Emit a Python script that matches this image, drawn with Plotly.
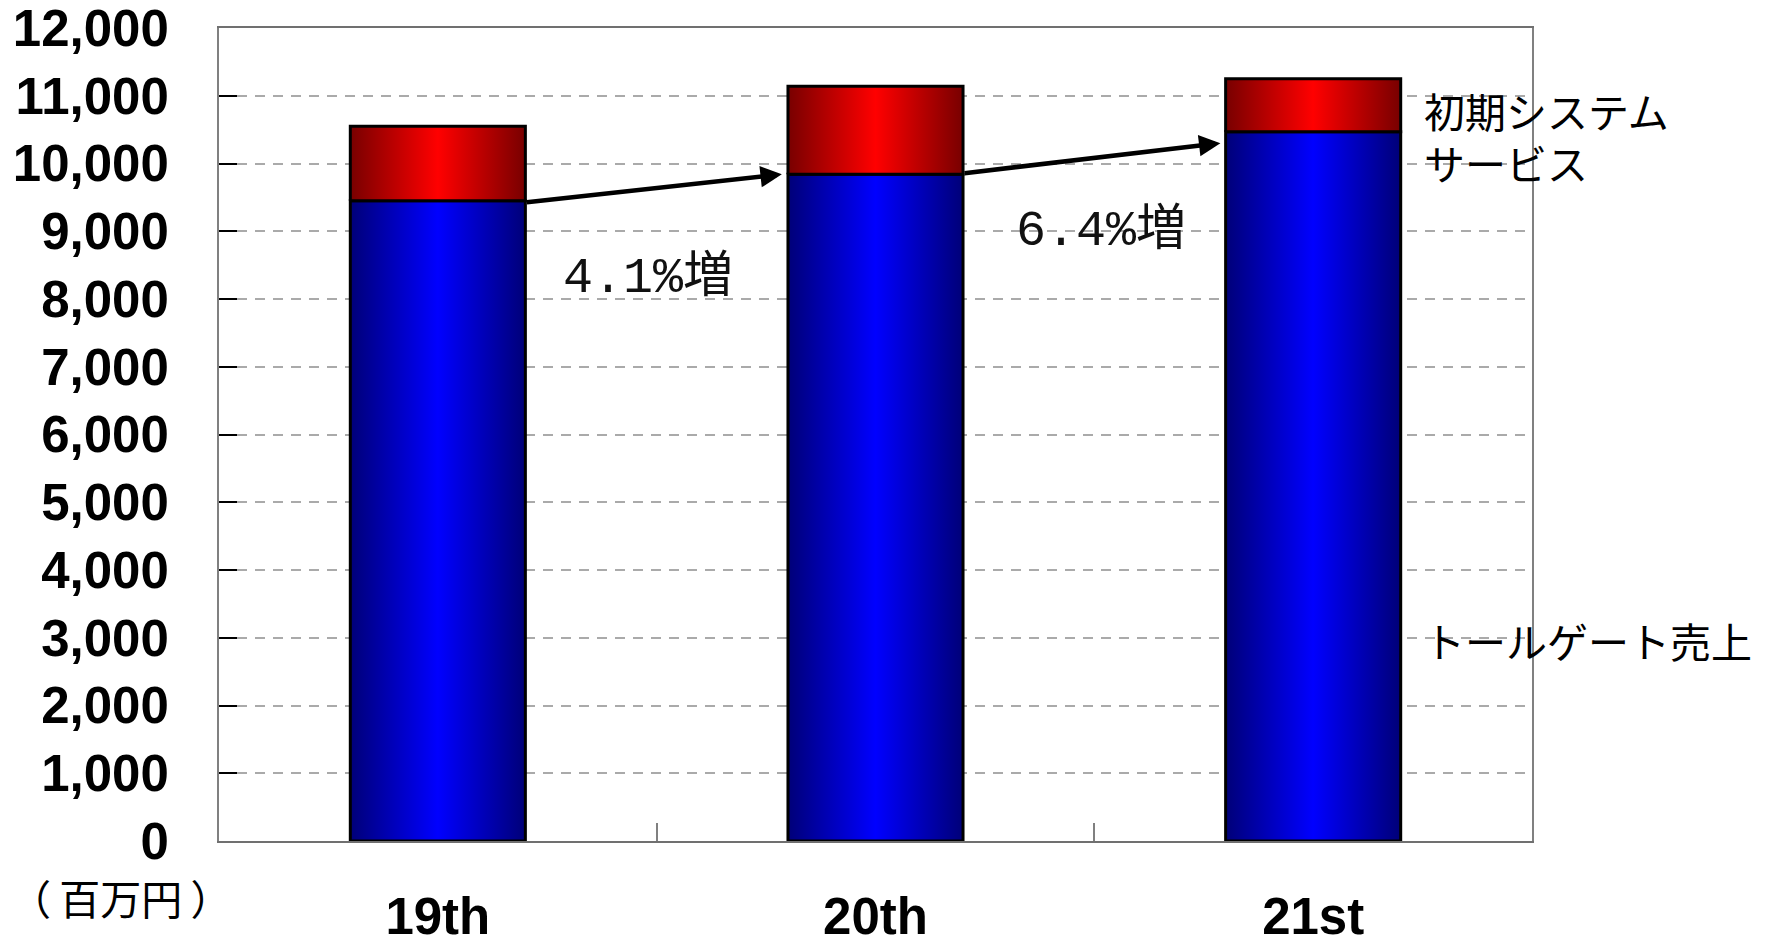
import plotly.graph_objects as go

# Sales by fiscal period (million yen)
periods = ["19th", "20th", "21st"]
toll_sales = [9450, 9840, 10470]        # トールゲート売上
initial_system = [1100, 1300, 780]      # 初期システムサービス
growth_labels = ["4.1%増", "6.4%増"]
y_ticks = list(range(0, 12001, 1000))

BAR_W = 0.4
blue_scale = [[0, "#000078"], [0.5, "#0000FF"], [1, "#000078"]]
red_scale = [[0, "#780000"], [0.5, "#FF0000"], [1, "#780000"]]

fig = go.Figure()

# stacked bars with a horizontal metallic gradient
for i, (b, r) in enumerate(zip(toll_sales, initial_system)):
    x0, x1 = i - BAR_W / 2, i + BAR_W / 2
    for base, top, scale in ((0, b, blue_scale), (b, b + r, red_scale)):
        fig.add_trace(go.Scatter(
            x=[x0, x1, x1, x0, x0],
            y=[base, base, top, top, base],
            mode="lines", fill="toself",
            fillgradient=dict(type="horizontal", colorscale=scale),
            line=dict(color="black", width=3),
            hoverinfo="skip", showlegend=False,
        ))

label_font = dict(family="Noto Sans CJK JP", size=41, color="black")
pct_font = dict(family="Liberation Mono, Noto Sans CJK JP", size=50, color="#111111")

annotations = []

# growth arrows between the toll-sales tops
arrows = [
    dict(tail=(0 + BAR_W / 2, toll_sales[0] - 25), head=(0.786, toll_sales[1])),
    dict(tail=(1 + BAR_W / 2, toll_sales[1] + 15), head=(1.788, 10300)),
]
for a in arrows:
    annotations.append(dict(
        x=a["head"][0], y=a["head"][1], ax=a["tail"][0], ay=a["tail"][1],
        xref="x", yref="y", axref="x", ayref="y",
        showarrow=True, arrowhead=2, arrowsize=0.95, arrowwidth=4.5,
        arrowcolor="black", standoff=0, text="",
    ))

# growth labels
for (gx, gy), txt in zip([(0.48, 8310), (1.516, 9000)], growth_labels):
    annotations.append(dict(x=gx, y=gy, xref="x", yref="y", text=txt,
                            showarrow=False, font=pct_font,
                            xanchor="center", yanchor="middle"))

# series labels at the right
for ty, txt in [(10790, "初期システム"), (10020, "サービス"), (2970, "トールゲート売上")]:
    annotations.append(dict(x=0.916, y=ty, xref="paper", yref="y",
                            text=txt, showarrow=False, font=label_font,
                            xanchor="left", yanchor="middle", align="left"))

# unit label
annotations.append(dict(x=-0.075, y=-0.069, xref="paper", yref="paper",
                        text="（\u2009百万円\u2009）", showarrow=False,
                        font=dict(family="Noto Sans CJK JP", size=41, color="black"),
                        xanchor="center", yanchor="middle"))

fig.update_layout(
    width=1775, height=945,
    margin=dict(l=219, r=243, t=28, b=104),
    paper_bgcolor="white", plot_bgcolor="white",
    annotations=annotations,
    xaxis=dict(
        range=[-0.5, 2.5], automargin=False,
        tickmode="array", tickvals=list(range(len(periods))), ticktext=periods,
        ticks="", showgrid=False, zeroline=False,
        showline=True, linecolor="#707070", linewidth=2, mirror=True,
        minor=dict(tickmode="array", tickvals=[0.5, 1.5], ticks="inside",
                   ticklen=18, tickwidth=2, tickcolor="#808080", showgrid=False),
        tickfont=dict(family="Liberation Sans", size=51, color="black", weight="bold"),
        ticklabelstandoff=30, ticklabeloverflow="allow",
    ),
    yaxis=dict(
        range=[0, 12000], automargin=False,
        tickmode="array", tickvals=y_ticks, tickformat=",",
        ticks="inside", ticklen=18, tickwidth=2, tickcolor="black",
        showgrid=True, gridcolor="#AAAAAA", gridwidth=1.5, griddash="10px,8px",
        zeroline=False,
        showline=True, linecolor="#808080", linewidth=2, mirror=True,
        tickfont=dict(family="Liberation Sans", size=51, color="black", weight="bold"),
        ticklabelstandoff=38, ticklabeloverflow="allow",
    ),
)

fig.write_html("out.html")
